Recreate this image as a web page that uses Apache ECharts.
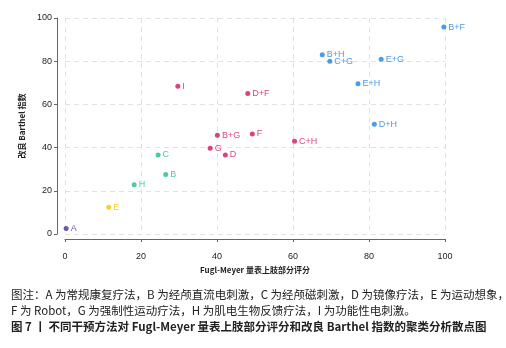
<!DOCTYPE html>
<html lang="zh" style="height: 100%">
<head>
<meta charset="utf-8">
<title>聚类分析散点图</title>
</head>
<body style="height: 100%; margin: 0; background: #fff">
<div id="container" style="width: 506px; height: 348px"></div>
<script type="text/javascript" src="https://cdn.jsdelivr.net/npm/echarts@6/dist/echarts.min.js"></script>
<script type="text/javascript">
// point names, Fugl-Meyer (x), Barthel (y), cluster index
var names = ['A', 'E', 'H', 'C', 'B', 'G', 'D', 'B+G', 'F', 'I', 'D+F', 'C+H', 'D+H', 'E+H', 'B+H', 'C+G', 'E+G', 'B+F'];
var fuglMeyer = [0.3, 11.5, 18.2, 24.5, 26.5, 38.2, 42.2, 40.1, 49.3, 29.7, 48.1, 60.4, 81.4, 77.1, 67.7, 69.7, 83.2, 99.7];
var barthel = [2.5, 12.4, 22.8, 36.6, 27.6, 39.7, 36.6, 45.7, 46.3, 68.4, 65.0, 42.9, 50.8, 69.6, 83.0, 80.0, 80.9, 95.8];
var cluster = [0, 1, 2, 2, 2, 3, 3, 3, 3, 3, 3, 3, 4, 4, 4, 4, 4, 4];
var clusterColors = ['#4a2ca6', '#f5c400', '#1fbf82', '#d4145a', '#1d82e2'];

var dom = document.getElementById('container');
var myChart = echarts.init(dom);

var series = clusterColors.map(function (c, k) {
  var pts = [];
  names.forEach(function (n, i) {
    if (cluster[i] === k) pts.push([fuglMeyer[i], barthel[i], n]);
  });
  return {
    type: 'scatter',
    symbolSize: 5,
    data: pts,
    itemStyle: {color: c},
    label: {
      show: true,
      position: 'right',
      distance: 2,
      formatter: function (p) { return p.data[2]; },
      color: c,
      fontSize: 9,
      fontFamily: 'Liberation Sans'
    }
  };
});

var captionFont = '"Noto Sans CJK SC", sans-serif';

var option = {
  animation: false,
  title: [
    {
      text: '图注：A 为常规康复疗法，B 为经颅直流电刺激，C 为经颅磁刺激，D 为镜像疗法，E 为运动想象，',
      left: 6, top: 284,
      textStyle: {fontSize: 11.5, fontWeight: 'normal', color: '#222', fontFamily: captionFont}
    },
    {
      text: 'F 为 Robot，G 为强制性运动疗法，H 为肌电生物反馈疗法，I 为功能性电刺激。',
      left: 6, top: 300,
      textStyle: {fontSize: 11.5, fontWeight: 'normal', color: '#222', fontFamily: captionFont}
    },
    {
      text: '图 7 丨 不同干预方法对 Fugl-Meyer 量表上肢部分评分和改良 Barthel 指数的聚类分析散点图',
      left: 6, top: 316,
      textStyle: {fontSize: 11.5, fontWeight: 'bold', color: '#222', fontFamily: captionFont}
    }
  ],
  grid: {left: 65, right: 61, top: 18, bottom: 114},
  xAxis: {
    type: 'value',
    min: 0, max: 100, interval: 20,
    offset: 5,
    name: 'Fugl-Meyer 量表上肢部分评分',
    nameLocation: 'middle',
    nameGap: 27,
    nameTextStyle: {fontSize: 8, fontWeight: 'bold', color: '#222', fontFamily: captionFont},
    axisLine: {show: true, onZero: false, lineStyle: {color: '#666', width: 1}},
    axisTick: {show: true, length: 3, lineStyle: {color: '#666'}},
    axisLabel: {fontSize: 9, color: '#222', margin: 13, fontFamily: 'Liberation Sans'},
    splitLine: {show: true, lineStyle: {color: '#e2e2e2', type: [5, 4]}}
  },
  yAxis: {
    type: 'value',
    min: 0, max: 100, interval: 20,
    offset: 8,
    name: '改良 Barthel 指数',
    nameLocation: 'middle',
    nameGap: 25,
    nameRotate: 90,
    nameTextStyle: {fontSize: 8, fontWeight: 'bold', color: '#222', fontFamily: captionFont},
    axisLine: {show: true, onZero: false, lineStyle: {color: '#666', width: 1}},
    axisTick: {show: true, length: 3, lineStyle: {color: '#666'}},
    axisLabel: {fontSize: 9, color: '#222', margin: 5, fontFamily: 'Liberation Sans'},
    splitLine: {show: true, lineStyle: {color: '#e2e2e2', type: [5, 4]}}
  },
  series: series
};

myChart.setOption(option);
window.addEventListener('resize', myChart.resize);
</script>
</body>
</html>
